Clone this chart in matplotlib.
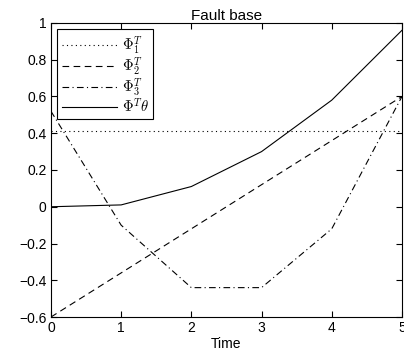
import matplotlib
matplotlib.use("Agg")
import matplotlib.pyplot as plt

plt.rcParams["font.family"] = ["Liberation Sans", "DejaVu Sans"]
plt.rcParams["mathtext.fontset"] = "cm"

time = [0, 1, 2, 3, 4, 5]
phi1 = [0.41, 0.41, 0.41, 0.41, 0.41, 0.41]
phi2 = [-0.6, -0.36, -0.12, 0.12, 0.36, 0.6]
phi3 = [0.52, -0.1, -0.44, -0.44, -0.12, 0.6]
phi_theta = [0.0, 0.01, 0.11, 0.30, 0.58, 0.96]

fig = plt.figure(figsize=(4.04, 3.64), dpi=100)
ax = fig.add_axes([0.126, 0.129, 0.869, 0.808])

ax.plot(time, phi1, color="black", lw=0.8, linestyle=(0, (1, 3)), label=r"$\Phi_1^T$")
ax.plot(time, phi2, color="black", lw=0.8, linestyle=(0, (6, 4)), label=r"$\Phi_2^T$")
ax.plot(time, phi3, color="black", lw=0.8, linestyle=(0, (6, 3, 1, 3)), label=r"$\Phi_3^T$")
ax.plot(time, phi_theta, color="black", lw=0.8, label=r"$\Phi^T\theta$")

ax.set_xlim(0, 5)
ax.set_ylim(-0.6, 1)
ax.set_xticks(time)
ax.set_yticks([-0.6, -0.4, -0.2, 0, 0.2, 0.4, 0.6, 0.8, 1])
ax.set_yticklabels(["\u22120.6", "\u22120.4", "\u22120.2", "0", "0.2", "0.4", "0.6", "0.8", "1"])
ax.tick_params(direction="in", top=True, right=True, labelsize=10, length=4, pad=3)
for s in ax.spines.values():
    s.set_linewidth(0.8)

ax.set_xlabel("Time", fontsize=10, labelpad=1)
ax.set_title("Fault base", fontsize=11, pad=2)

leg = ax.legend(loc="upper left", fancybox=False, edgecolor="black", fontsize=10.5,
                handlelength=3.8, borderaxespad=0.45, labelspacing=-0.05,
                handletextpad=0.3, borderpad=0.3, framealpha=1)
leg.get_frame().set_linewidth(0.8)

fig.savefig("out.png", dpi=100)
